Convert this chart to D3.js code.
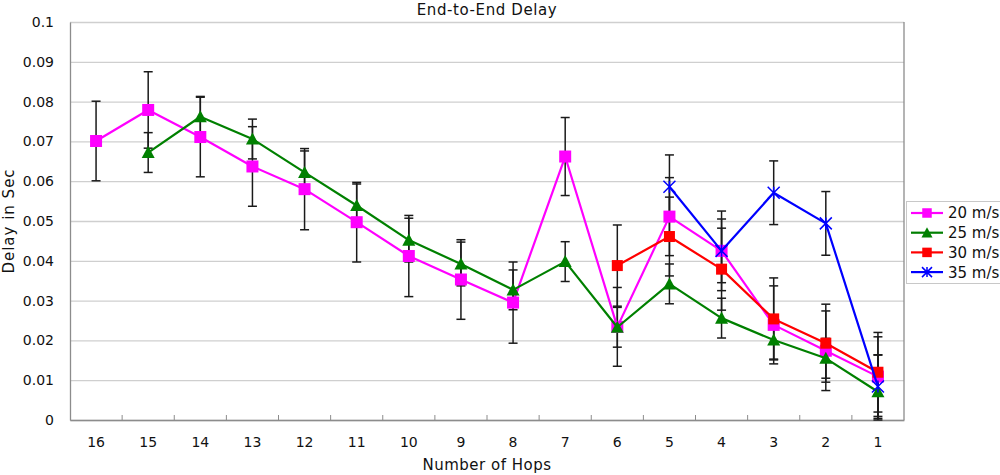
<!DOCTYPE html>
<html>
<head>
<meta charset="utf-8">
<script src="https://cdn.jsdelivr.net/npm/d3@7"></script>
<style>
  html, body { margin: 0; padding: 0; background: #fff; }
  #plot { width: 1000px; height: 475px; }
  text { font-family: "DejaVu Sans", "Noto Sans", sans-serif; fill: #111; }
</style>
</head>
<body>
<div id="plot"></div>
<script>
// Hop counts along the x axis (left to right)
const hops = ['16', '15', '14', '13', '12', '11', '10', '9', '8', '7', '6', '5', '4', '3', '2', '1'];
const yTicks = [0, 0.01, 0.02, 0.03, 0.04, 0.05, 0.06, 0.07, 0.08, 0.09, 0.1];

const seriesNames = ['20 m/s', '25 m/s', '30 m/s', '35 m/s'];

// mean delay per hop count (null = no value for that speed)
const delay20 = [0.0701, 0.0779, 0.0711, 0.0637, 0.058, 0.0497, 0.0412, 0.0353, 0.0295, 0.0662, 0.0234, 0.0511, 0.0425, 0.0239, 0.0174, 0.0109];
const delay25 = [null, 0.0672, 0.0762, 0.0706, 0.0622, 0.0539, 0.0452, 0.0392, 0.0327, 0.0398, 0.0233, 0.0342, 0.0256, 0.0201, 0.0155, 0.0071];
const delay30 = [null, null, null, null, null, null, null, null, null, null, 0.0388, 0.0461, 0.0379, 0.0254, 0.0193, 0.012];
const delay35 = [null, null, null, null, null, null, null, null, null, null, null, 0.0586, 0.0425, 0.0571, 0.0494, 0.0084];

// error bar half widths
const err20 = [0.01, 0.0096, 0.01, 0.01, 0.0102, 0.01, 0.0102, 0.01, 0.0102, 0.0098, 0.0099, 0.0098, 0.008, 0.0098, 0.01, 0.01];
const err25 = [null, 0.005, 0.0051, 0.005, 0.0054, 0.0054, 0.0055, 0.0055, 0.005, 0.005, 0.005, 0.005, 0.005, 0.0048, 0.005, 0.0092];
const err30 = [null, null, null, null, null, null, null, null, null, null, 0.0102, 0.0099, 0.0103, 0.0103, 0.0098, 0.01];
const err35 = [null, null, null, null, null, null, null, null, null, null, null, 0.008, 0.01, 0.008, 0.008, 0.008];

function drawChart() {
  const W = 1000, H = 475;
  const margin = { top: 22, right: 96, bottom: 55, left: 70 };
  const width = W - margin.left - margin.right;
  const height = H - margin.top - margin.bottom;

  const svg = d3.select('#plot').append('svg').attr('width', W).attr('height', H);
  const g = svg.append('g').attr('transform', `translate(${margin.left},${margin.top})`);

  const xScale = d3.scaleBand().domain(hops).range([0, width]).padding(0);
  const yScale = d3.scaleLinear().domain([0, 0.1]).range([height, 0]);
  const cx = (i) => xScale(hops[i]) + xScale.bandwidth() / 2;

  // horizontal grid
  g.append('g').attr('class', 'grid-y')
    .call(d3.axisLeft(yScale).tickValues(yTicks).tickSize(-width).tickFormat(''))
    .call(s => s.select('.domain').remove())
    .selectAll('line').attr('stroke', '#cfcfcf').attr('stroke-width', 1.3);

  // plot frame right side
  g.append('line').attr('x1', width).attr('x2', width).attr('y1', 0).attr('y2', height)
    .attr('stroke', '#8c8c8c').attr('stroke-width', 1.3);

  // y axis
  const yAxisG = g.append('g').attr('class', 'axis-y')
    .call(d3.axisLeft(yScale).tickValues(yTicks).tickSize(0).tickPadding(16)
      .tickFormat(d => d === 0 ? '0' : String(+d.toFixed(2))));
  yAxisG.select('.domain').attr('stroke', '#8c8c8c').attr('stroke-width', 1.3);
  yAxisG.selectAll('text').style('font-size', '14px').attr('fill', '#222');

  // x axis: labels centered in bands, small ticks at band edges pointing inward
  const xAxisG = g.append('g').attr('class', 'axis-x').attr('transform', `translate(0,${height})`)
    .call(d3.axisBottom(xScale).tickSize(0).tickPadding(17));
  xAxisG.select('.domain').attr('stroke', '#8c8c8c').attr('stroke-width', 1.3);
  xAxisG.selectAll('text').style('font-size', '14px').attr('fill', '#222');
  xAxisG.selectAll('.edge-tick').data(hops.slice(1)).enter().append('line')
    .attr('class', 'edge-tick')
    .attr('x1', d => xScale(d)).attr('x2', d => xScale(d))
    .attr('y1', 0).attr('y2', -5)
    .attr('stroke', '#8c8c8c').attr('stroke-width', 1);

  const series = [
    { name: seriesNames[0], values: delay20, errs: err20, color: '#ff00ff', marker: 'square', size: 12 },
    { name: seriesNames[1], values: delay25, errs: err25, color: '#008000', marker: 'triangle', size: 13 },
    { name: seriesNames[2], values: delay30, errs: err30, color: '#ff0000', marker: 'square', size: 11 },
    { name: seriesNames[3], values: delay35, errs: err35, color: '#0000ff', marker: 'star', size: 12 }
  ].map(s => ({
    ...s,
    points: s.values.map((v, i) => ({ i, v, e: s.errs[i] })).filter(p => p.v !== null)
  }));

  // error bars
  const capW = 4.5;
  series.forEach(s => {
    const eb = g.append('g').attr('class', 'err');
    s.points.forEach(p => {
      const x = cx(p.i), yHi = yScale(p.v + p.e), yLo = yScale(Math.max(0, p.v - p.e));
      eb.append('line').attr('x1', x).attr('x2', x).attr('y1', yHi).attr('y2', yLo);
      eb.append('line').attr('x1', x - capW).attr('x2', x + capW).attr('y1', yHi).attr('y2', yHi);
      eb.append('line').attr('x1', x - capW).attr('x2', x + capW).attr('y1', yLo).attr('y2', yLo);
    });
    eb.selectAll('line').attr('stroke', '#1a1a1a').attr('stroke-width', 1.5);
  });

  const line = d3.line().x(d => cx(d.i)).y(d => yScale(d.v));

  function drawMarker(sel, type, x, y, size, color) {
    const h = size / 2;
    if (type === 'square') {
      sel.append('rect').attr('x', x - h).attr('y', y - h).attr('width', size).attr('height', size).attr('fill', color);
    } else if (type === 'triangle') {
      sel.append('path')
        .attr('d', `M${x},${y - h}L${x + h},${y + h * 0.85}L${x - h},${y + h * 0.85}Z`)
        .attr('fill', color);
    } else {
      sel.append('path')
        .attr('d', `M${x - h},${y - h}L${x + h},${y + h}M${x - h},${y + h}L${x + h},${y - h}M${x},${y - h}L${x},${y + h}`)
        .attr('stroke', color).attr('stroke-width', 1.5).attr('fill', 'none');
    }
  }

  series.forEach(s => {
    g.append('path').datum(s.points)
      .attr('fill', 'none').attr('stroke', s.color).attr('stroke-width', 2.2)
      .attr('stroke-linejoin', 'round')
      .attr('d', line);
    const mk = g.append('g').attr('class', 'markers');
    s.points.forEach(p => drawMarker(mk, s.marker, cx(p.i), yScale(p.v), s.size, s.color));
  });

  // legend
  const legend = svg.append('g').attr('transform', 'translate(906,201)');
  legend.append('rect').attr('x', 0.5).attr('y', 0.5).attr('width', 100).attr('height', 82)
    .attr('fill', '#fff').attr('stroke', '#c8c8c8').attr('stroke-width', 1);
  series.forEach((s, k) => {
    const y = 12 + k * 19.7;
    legend.append('line').attr('x1', 5).attr('x2', 37).attr('y1', y).attr('y2', y)
      .attr('stroke', s.color).attr('stroke-width', 2.2);
    drawMarker(legend, s.marker, 21, y, s.marker === 'triangle' ? 11 : (s.marker === 'star' ? 10 : 9.5), s.color);
    legend.append('text').attr('x', 42).attr('y', y).attr('dy', '0.36em')
      .style('font-size', '15px').text(s.name);
  });

  // titles
  svg.append('text')
    .attr('x', margin.left + width / 2).attr('y', 15)
    .attr('text-anchor', 'middle')
    .style('font-size', '15px')
    .style('letter-spacing', '0.6px')
    .text('End-to-End Delay');

  svg.append('text')
    .attr('x', margin.left + width / 2).attr('y', 470)
    .attr('text-anchor', 'middle')
    .style('font-size', '15px')
    .style('letter-spacing', '0.5px')
    .text('Number of Hops');

  svg.append('text')
    .attr('transform', `translate(14,${margin.top + height / 2}) rotate(-90)`)
    .attr('text-anchor', 'middle')
    .style('font-size', '15px')
    .style('letter-spacing', '1px')
    .text('Delay in Sec');
}

drawChart();
</script>
</body>
</html>
